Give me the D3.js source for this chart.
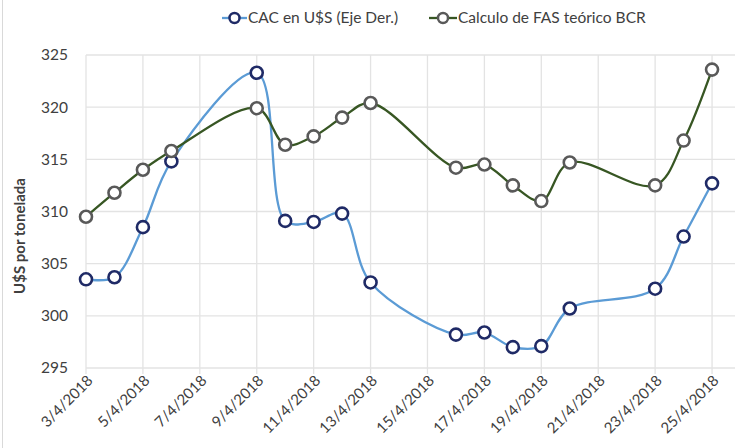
<!DOCTYPE html>
<html>
<head>
<meta charset="utf-8">
<script src="https://cdn.jsdelivr.net/npm/d3@7"></script>
<style>
  body { margin: 0; background: #fff; }
  svg { display: block; font-family: Lato, "Open Sans", sans-serif; }
</style>
</head>
<body>
<script>
// Dates (trading days) shown on the chart, April 2018
const days = [3, 4, 5, 6, 9, 10, 11, 12, 13, 16, 17, 18, 19, 20, 23, 24, 25];
// CAC en U$S (Eje Der.)
const cacValues = [303.5, 303.7, 308.5, 314.8, 323.3, 309.1, 309.0, 309.8, 303.2,
                   298.2, 298.4, 297.0, 297.1, 300.7, 302.6, 307.6, 312.7];
// Calculo de FAS teórico BCR
const fasValues = [309.5, 311.8, 314.0, 315.8, 319.9, 316.4, 317.2, 319.0, 320.4,
                   314.2, 314.5, 312.5, 311.0, 314.7, 312.5, 316.8, 323.6];
const yTicks = [295, 300, 305, 310, 315, 320, 325];
const seriesNames = ["CAC en U$S (Eje Der.)", "Calculo de FAS teórico BCR"];

const width = 735;
const height = 448;

const dates = days.map(d => new Date(Date.UTC(2018, 3, d)));

// Specify the scales. The axis runs one day past the last label and is cut by the frame.
const x = d3.scaleUtc()
    .domain([new Date(Date.UTC(2018, 3, 3)), new Date(Date.UTC(2018, 3, 26))])
    .range([86, 740.5]);

const y = d3.scaleLinear()
    .domain([295, 325])
    .range([368, 55]);

const svg = d3.select("body").append("svg")
    .attr("width", width)
    .attr("height", height)
    .attr("viewBox", [0, 0, width, height]);

// chart frame (only left edge visible)
svg.append("line")
    .attr("x1", 2.5).attr("x2", 2.5)
    .attr("y1", 0).attr("y2", height)
    .attr("stroke", "#d9d9d9");

const xTicks = x.ticks(d3.utcDay.every(2))
    .filter(d => d <= new Date(Date.UTC(2018, 3, 25)));

// gridlines
svg.append("g")
    .attr("stroke", "#e3e3e3")
    .attr("stroke-width", 1.3)
  .selectAll()
  .data(yTicks)
  .join("line")
    .attr("x1", 86)
    .attr("x2", width)
    .attr("y1", d => y(d))
    .attr("y2", d => y(d));

svg.append("g")
    .attr("stroke", "#e3e3e3")
    .attr("stroke-width", 1.3)
  .selectAll()
  .data(xTicks)
  .join("line")
    .attr("x1", d => x(d))
    .attr("x2", d => x(d))
    .attr("y1", y(325))
    .attr("y2", y(295) + 6);

// y axis labels
svg.append("g")
    .attr("font-size", 15.5)
    .attr("fill", "#404040")
    .attr("text-anchor", "end")
  .selectAll()
  .data(yTicks)
  .join("text")
    .attr("x", 68)
    .attr("y", d => y(d))
    .attr("dy", "0.35em")
    .text(d => d);

// x axis labels, rotated
const fmt = d3.utcFormat("%-d/%-m/%Y");
svg.append("g")
    .attr("font-size", 15)
    .attr("fill", "#404040")
    .attr("text-anchor", "end")
  .selectAll()
  .data(xTicks)
  .join("text")
    .attr("transform", d => `translate(${x(d) + 4},${y(295) + 10}) rotate(-45)`)
    .attr("dy", "0.35em")
    .text(d => fmt(d));

// y axis title
svg.append("text")
    .attr("transform", `translate(20,236) rotate(-90)`)
    .attr("text-anchor", "middle")
    .attr("dy", "0.35em")
    .attr("font-size", 15)
    .attr("font-weight", "bold")
    .attr("fill", "#404040")
    .text("U$S por tonelada");

// series
const series = [
  {name: seriesNames[0], values: cacValues, line: "#5b9bd5", marker: "#1f2a66"},
  {name: seriesNames[1], values: fasValues, line: "#375623", marker: "#595959"}
];

const line = d3.line()
    .x((d, i) => x(dates[i]))
    .y(d => y(d))
    .curve(d3.curveCatmullRom.alpha(0.5));

for (const s of series) {
  svg.append("path")
      .attr("fill", "none")
      .attr("stroke", s.line)
      .attr("stroke-width", 2.3)
      .attr("d", line(s.values));
}

for (const s of series) {
  svg.append("g")
      .attr("fill", "#fff")
      .attr("stroke", s.marker)
      .attr("stroke-width", 2.6)
    .selectAll()
    .data(s.values)
    .join("circle")
      .attr("cx", (d, i) => x(dates[i]))
      .attr("cy", d => y(d))
      .attr("r", 6);
}

// legend
const legendPos = [{x0: 222, x1: 247, tx: 248}, {x0: 429, x1: 457, tx: 458}];
const legend = svg.append("g")
  .selectAll()
  .data(series)
  .join("g");

legend.append("line")
    .attr("x1", (d, i) => legendPos[i].x0)
    .attr("x2", (d, i) => legendPos[i].x1)
    .attr("y1", 18).attr("y2", 18)
    .attr("stroke", d => d.line)
    .attr("stroke-width", 2.3);

legend.append("circle")
    .attr("cx", (d, i) => (legendPos[i].x0 + legendPos[i].x1) / 2)
    .attr("cy", 18)
    .attr("r", 5)
    .attr("fill", "#fff")
    .attr("stroke", d => d.marker)
    .attr("stroke-width", 2.5);

legend.append("text")
    .attr("x", (d, i) => legendPos[i].tx)
    .attr("y", 18)
    .attr("dy", "0.35em")
    .attr("font-size", 15.5)
    .attr("fill", "#404040")
    .text(d => d.name);
</script>
</body>
</html>
